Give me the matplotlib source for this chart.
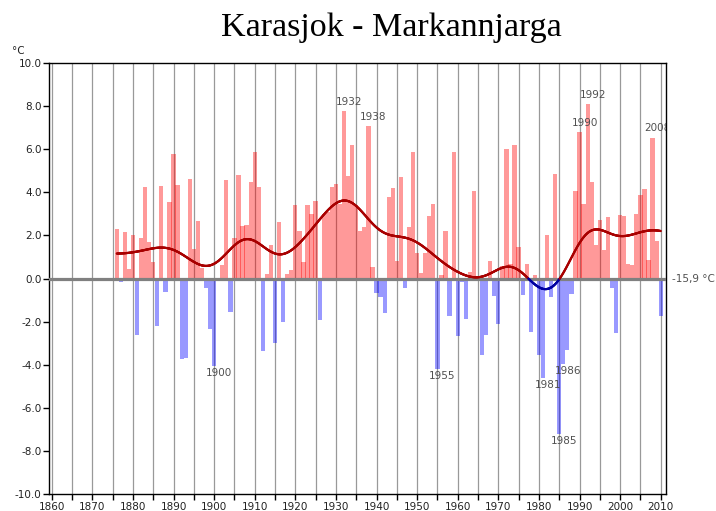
import numpy as np
import matplotlib
matplotlib.use("Agg")
import matplotlib.pyplot as plt
from matplotlib.collections import LineCollection

# Annual temperature deviation (°C) from the 1961-90 normal (-15,9 °C)
years = list(range(1876, 2011))
anomaly = [
    2.28, -0.15, 2.16, 0.46, 2.00, -2.60, 1.90, 4.24, 1.70, 0.77,      # 1876-1885
    -2.20, 4.29, -0.62, 3.56, 5.80, 4.34, -3.73, -3.69, 4.60, 1.39,    # 1886-1895
    2.67, 0.50, -0.42, -2.35, -4.04, 0.00, 0.62, 4.55, -1.54, 1.90,    # 1896-1905
    4.80, 2.44, 2.48, 4.49, 5.86, 4.24, -3.38, 0.23, 1.56, -3.00,      # 1906-1915
    2.62, -2.04, 0.20, 0.40, 3.43, 2.20, 0.75, 3.43, 3.00, 3.58,       # 1916-1925
    -1.93, 3.00, 3.10, 4.25, 4.38, 3.46, 7.78, 4.77, 6.20, 3.40,       # 1926-1935
    2.22, 2.40, 7.08, 0.55, -0.68, -0.88, -1.60, 3.78, 4.18, 0.82,     # 1936-1945
    4.70, -0.45, 2.39, 5.86, 1.17, 0.25, 1.17, 2.90, 3.44, -4.20,      # 1946-1955
    0.15, 2.20, -1.76, 5.88, -2.67, -0.17, -1.90, 0.30, 4.04, 0.10,    # 1956-1965
    -3.56, -2.64, 0.80, -0.79, -2.10, 0.60, 6.03, 0.68, 6.19, 1.48,    # 1966-1975
    -0.75, 0.68, -2.50, 0.14, -3.57, -4.60, 2.00, -0.86, 4.87, -7.20,  # 1976-1985
    -3.95, -3.30, -0.71, 4.04, 6.80, 3.47, 8.10, 4.50, 1.57, 2.70,     # 1986-1995
    1.34, 2.87, -0.43, -2.53, 2.96, 2.92, 0.65, 0.63, 2.98, 3.89,      # 1996-2005
    4.15, 0.88, 6.54, 1.76, -1.76,                                     # 2006-2010
]
labelled_years = [1900, 1932, 1938, 1955, 1981, 1985, 1986, 1990, 1992, 2008]
normal_text = "-15,9 °C"
title = "Karasjok - Markannjarga"
y_ticks = list(range(-10, 11, 2))
x_major = list(range(1860, 2011, 10))
x_minor = list(range(1860, 2011, 5))

yrs = np.array(years, dtype=float)
vals = np.array(anomaly, dtype=float)

# Gaussian low-pass filter of the annual series
sigma = 5.0
t = np.arange(yrs[0], yrs[-1] + 0.001, 0.1)
w = np.exp(-0.5 * ((t[:, None] - yrs[None, :]) / sigma) ** 2)
smooth = (w * vals).sum(axis=1) / w.sum(axis=1)

fig = plt.figure(figsize=(7.16, 5.11), dpi=100)
W, H = 716, 511
ax = fig.add_axes([49.3 / W, 17 / H, (666 - 49.3) / W, (494 - 63) / H])
ax.set_xlim(1859.4, 2011.3)
ax.set_ylim(-10, 10)

for x in x_minor:
    ax.axvline(x, color="#999999", lw=0.9, zorder=0)

colors = np.where(vals >= 0, "#ff0000", "#0000ff")
ax.bar(yrs, vals, width=1.05, color=colors, alpha=0.4, linewidth=0, zorder=2)

ax.axhline(0, color="#808080", lw=2.3, zorder=3)

pts = np.column_stack([t, smooth])
segs = np.stack([pts[:-1], pts[1:]], axis=1)
mid = 0.5 * (smooth[:-1] + smooth[1:])
seg_colors = np.where(mid >= 0, "#a80000", "#0000a0")
lc = LineCollection(segs, colors=seg_colors, linewidths=1.6, zorder=4,
                    capstyle="round")
ax.add_collection(lc)

for y in labelled_years:
    v = vals[years.index(y)]
    if v >= 0:
        ax.text(y - 2.0, v + 0.2, str(y), ha="left", va="bottom",
                fontsize=7.5, color="#505050", clip_on=True, zorder=5)
    else:
        ax.text(y - 2.0, v - 0.1, str(y), ha="left", va="top",
                fontsize=7.5, color="#505050", clip_on=True, zorder=5)

ax.text(1.01, 0.5, normal_text, transform=ax.transAxes, ha="left",
        va="center", fontsize=7.5, color="#505050")

ax.set_yticks(y_ticks)
ax.set_yticklabels([f"{v:.1f}" for v in y_ticks])
ax.set_xticks(x_major)
ax.set_xticklabels([str(x) for x in x_major])
ax.set_xticks(x_minor, minor=True)
ax.tick_params(axis="both", which="both", direction="out", length=4,
               width=1, colors="#000000", labelsize=7.5, labelcolor="#222222",
               pad=1.5)

for s in ax.spines.values():
    s.set_color("#000000")
    s.set_linewidth(1.0)

fig.text(18 / W, 1 - 51 / H, "°C", fontsize=7.5, color="#222222",
         ha="center", va="center")
fig.text(391.5 / W, 1 - 28 / H, title, family="Liberation Serif",
         fontsize=24.5, ha="center", va="center", color="#000000")

fig.savefig("out.png", dpi=100)
